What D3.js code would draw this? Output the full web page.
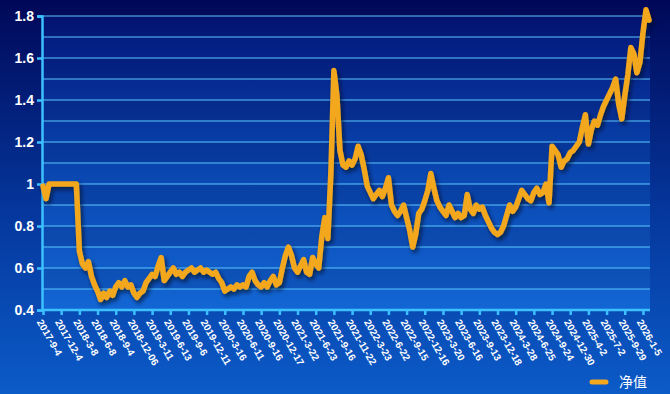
<!DOCTYPE html>
<html>
<head>
<meta charset="utf-8">
<script src="https://cdn.jsdelivr.net/npm/d3@7"></script>
<style>
  html, body { margin: 0; padding: 0; background: #03106a; }
  svg { display: block; font-family: "Liberation Sans", Arial, sans-serif; }
</style>
</head>
<body>
<div id="chart"></div>
<script>
// tick labels, one every 6 points of the series
var tickLabels = ["2017-9-4", "2017-12-4", "2018-3-8", "2018-6-8", "2018-9-4", "2018-12-06",
    "2019-3-11", "2019-6-13", "2019-9-6", "2019-12-11", "2020-3-16", "2020-6-11",
    "2020-9-16", "2020-12-17", "2021-3-22", "2021-6-23", "2021-9-16", "2021-11-22",
    "2022-3-23", "2022-6-22", "2022-9-15", "2022-12-16", "2023-3-20", "2023-6-16",
    "2023-9-13", "2023-12-18", "2024-3-28", "2024-6-25", "2024-9-24", "2024-12-30",
    "2025-4-2", "2025-7-2", "2025-9-29", "2026-1-5"];
var labelEvery = 6;

// net value
var navValues = [
    0.99, 0.93, 1.00, 1.00, 1.00, 1.00, 1.00, 1.00, 1.00, 1.00,
    1.00, 1.00, 0.68, 0.62, 0.60, 0.63, 0.56, 0.52, 0.49, 0.45,
    0.48, 0.46, 0.49, 0.47, 0.51, 0.53, 0.51, 0.54, 0.51, 0.52,
    0.48, 0.46, 0.48, 0.49, 0.53, 0.55, 0.57, 0.56, 0.61, 0.65,
    0.54, 0.56, 0.58, 0.60, 0.57, 0.58, 0.56, 0.58, 0.59, 0.60,
    0.58, 0.59, 0.60, 0.58, 0.59, 0.58, 0.57, 0.58, 0.55, 0.53,
    0.49, 0.50, 0.51, 0.50, 0.52, 0.51, 0.52, 0.51, 0.56, 0.58,
    0.54, 0.52, 0.51, 0.53, 0.51, 0.54, 0.56, 0.52, 0.53, 0.60,
    0.66, 0.70, 0.66, 0.60, 0.58, 0.61, 0.64, 0.58, 0.57, 0.65,
    0.62, 0.60, 0.75, 0.84, 0.74, 1.05, 1.54, 1.42, 1.16, 1.09,
    1.08, 1.11, 1.09, 1.12, 1.18, 1.14, 1.07, 0.99, 0.96, 0.93,
    0.95, 0.97, 0.94, 0.98, 1.03, 0.90, 0.87, 0.85, 0.87, 0.90,
    0.84, 0.78, 0.70, 0.76, 0.86, 0.88, 0.92, 0.97, 1.05, 0.98,
    0.92, 0.89, 0.87, 0.85, 0.90, 0.87, 0.84, 0.86, 0.84, 0.85,
    0.95, 0.88, 0.86, 0.90, 0.88, 0.89, 0.85, 0.82, 0.79, 0.77,
    0.76, 0.77, 0.80, 0.85, 0.90, 0.87, 0.89, 0.93, 0.97, 0.95,
    0.93, 0.92, 0.96, 0.98, 0.95, 0.96, 1.00, 0.91, 1.18, 1.16,
    1.14, 1.08, 1.11, 1.12, 1.15, 1.16, 1.18, 1.20, 1.27, 1.33,
    1.19, 1.26, 1.30, 1.28, 1.33, 1.37, 1.40, 1.43, 1.46, 1.50,
    1.38, 1.31, 1.42, 1.52, 1.65, 1.62, 1.53, 1.58, 1.72, 1.83,
    1.78
];
var yTicks = [0.4, 0.6, 0.8, 1.0, 1.2, 1.4, 1.6, 1.8];
var yGrid = d3.range(4, 19).map(d => d / 10);
var seriesName = "净值";

var svgWidth = 670;
var svgHeight = 394;
var margin = { top: 16, right: 20, bottom: 84, left: 42 };
var width = svgWidth - margin.left - margin.right;
var height = svgHeight - margin.top - margin.bottom;

var svg = d3.select("#chart")
    .append("svg")
    .attr("width", svgWidth)
    .attr("height", svgHeight);

var defs = svg.append("defs");

var bgGrad = defs.append("linearGradient")
    .attr("id", "bg").attr("x1", 0).attr("y1", 0).attr("x2", 0).attr("y2", 1);
bgGrad.append("stop").attr("offset", "0%").attr("stop-color", "#000858");
bgGrad.append("stop").attr("offset", "55%").attr("stop-color", "#05389e");
bgGrad.append("stop").attr("offset", "100%").attr("stop-color", "#0b5bc8");

var plotGrad = defs.append("linearGradient")
    .attr("id", "plotbg").attr("x1", 0).attr("y1", 0).attr("x2", 0).attr("y2", 1);
plotGrad.append("stop").attr("offset", "0%").attr("stop-color", "#03167a");
plotGrad.append("stop").attr("offset", "50%").attr("stop-color", "#0944ae");
plotGrad.append("stop").attr("offset", "100%").attr("stop-color", "#1266d4");

var shadow = defs.append("filter")
    .attr("id", "shadow")
    .attr("x", "-10%").attr("y", "-10%").attr("width", "130%").attr("height", "130%");
shadow.append("feDropShadow")
    .attr("dx", 2).attr("dy", 3).attr("stdDeviation", 2)
    .attr("flood-color", "#000820").attr("flood-opacity", 0.7);

svg.append("rect")
    .attr("width", svgWidth).attr("height", svgHeight)
    .attr("fill", "url(#bg)");

var g = svg.append("g")
    .attr("transform", `translate(${margin.left}, ${margin.top})`);

var x = d3.scaleLinear()
    .domain([0, navValues.length - 1])
    .range([1, width - 1]);

var y = d3.scaleLinear()
    .domain([0.4, 1.8])
    .range([height, 0]);

// plot area with alternating bands
g.append("rect")
    .attr("width", width).attr("height", height)
    .attr("fill", "url(#plotbg)");

g.append("g")
    .selectAll("rect")
    .data(yGrid.slice(0, -1).filter((d, i) => i % 2 === 1))
    .enter()
    .append("rect")
    .attr("x", 0)
    .attr("width", width)
    .attr("y", d => y(d + 0.1))
    .attr("height", d => y(d) - y(d + 0.1))
    .attr("fill", "#000a40")
    .attr("opacity", 0.14);

// gridlines
g.append("g")
    .selectAll("line")
    .data(yGrid)
    .enter()
    .append("line")
    .attr("x1", 0).attr("x2", width)
    .attr("y1", d => y(d)).attr("y2", d => y(d))
    .attr("stroke", "#5cc8ff")
    .attr("stroke-width", 1.2);

// y axis
var yAxis = d3.axisLeft(y).tickValues(yTicks).tickSize(5)
    .tickFormat(d => d3.format("~g")(d));
var yAxisG = g.append("g").call(yAxis);
yAxisG.select(".domain").attr("stroke", "#3cc0ff").attr("stroke-width", 2.5);
yAxisG.selectAll(".tick line").attr("stroke", "#3cc0ff").attr("stroke-width", 2.5);
yAxisG.selectAll(".tick text")
    .attr("fill", "#ffffff")
    .attr("font-size", 14)
    .attr("font-weight", "bold")
    .attr("x", -8);

// x axis
var xTickIdx = tickLabels.map((d, i) => i * labelEvery);
var xAxis = d3.axisBottom(x).tickValues(xTickIdx).tickSize(5)
    .tickFormat((d, i) => tickLabels[i]);
var xAxisG = g.append("g")
    .attr("transform", `translate(0, ${height})`)
    .call(xAxis);
xAxisG.select(".domain").attr("stroke", "#3cc0ff").attr("stroke-width", 2.5)
    .attr("d", `M0,0H${width}`);
xAxisG.selectAll(".tick line").attr("stroke", "#3cc0ff").attr("stroke-width", 2.5);
xAxisG.selectAll(".tick text")
    .attr("fill", "#ffffff")
    .attr("font-size", 10)
    .attr("font-weight", "bold")
    .attr("text-anchor", "start")
    .attr("dy", 0)
    .attr("transform", "translate(0, 8) rotate(60)");

// net value line
var line = d3.line()
    .x((d, i) => x(i))
    .y(d => y(d));

g.append("path")
    .datum(navValues)
    .attr("d", line)
    .attr("fill", "none")
    .attr("stroke", "#f3a71e")
    .attr("stroke-width", 5.5)
    .attr("stroke-linejoin", "round")
    .attr("stroke-linecap", "round")
    .attr("filter", "url(#shadow)");

// legend
var legend = svg.append("g")
    .attr("transform", "translate(592, 382)");
legend.append("line")
    .attr("x1", 0).attr("x2", 14)
    .attr("stroke", "#f3a71e")
    .attr("stroke-width", 5)
    .attr("stroke-linecap", "round");
legend.append("text")
    .attr("x", 27).attr("y", 5)
    .attr("fill", "#ffffff")
    .attr("font-size", 14)
    .attr("font-family", "'Noto Sans CJK SC', sans-serif")
    .text(seriesName);
</script>
</body>
</html>
